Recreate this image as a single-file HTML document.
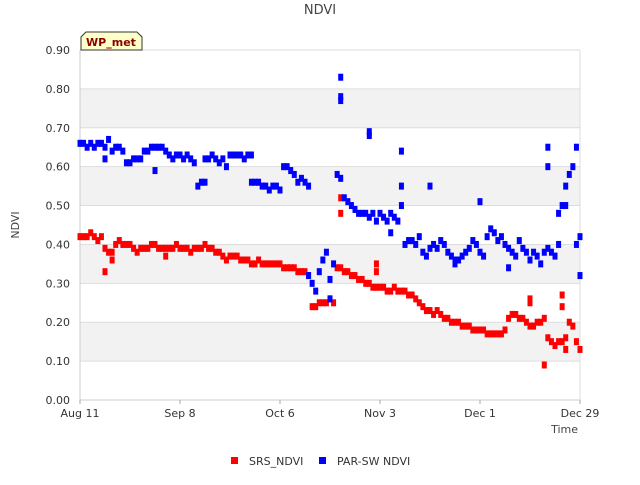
<!DOCTYPE html>
<html><head><meta charset="utf-8"><style>
body{margin:0;background:#fff;font-family:"Liberation Sans","DejaVu Sans",sans-serif;}
svg text{font-family:"DejaVu Sans","Liberation Sans",sans-serif;}
</style></head><body>
<svg id="c" width="640" height="480" xmlns="http://www.w3.org/2000/svg">
<rect width="640" height="480" fill="#fff"/>
<text x="320" y="14" text-anchor="middle" font-size="13" fill="#444">NDVI</text>
<text transform="translate(19,225) rotate(-90)" text-anchor="middle" font-size="11" fill="#444">NDVI</text>
<text x="578" y="433" text-anchor="end" font-size="11" fill="#444">Time</text>
<g id="grid"></g><g id="axes"></g><g id="marks"></g>
<g>
<path d="M81,50 L81,37 L86,32 L137,32 L142,37 L142,50 Z" fill="#ffffc8" stroke="#333" stroke-width="1"/>
<text x="111" y="46" text-anchor="middle" font-size="11" font-weight="bold" fill="#8b0000">WP_met</text>
</g>
<g>
<g><rect x="231" y="457" width="7" height="7" fill="#f00"/><text x="249" y="465" font-size="11" fill="#333">SRS_NDVI</text></g>
<g><rect x="319" y="457" width="7" height="7" fill="#00f"/><text x="337" y="465" font-size="11" fill="#333">PAR-SW NDVI</text></g>
</g>
</svg>
<script>
const yTicks=[0,0.1,0.2,0.3,0.4,0.5,0.6,0.7,0.8,0.9];
const xTickDays=[0,28,56,84,112,140];
const xTickLabels=["Aug 11","Sep 8","Oct 6","Nov 3","Dec 1","Dec 29"];
const srsVals=[
0.42,0.42,0.42,0.43,0.42,0.41,0.42,0.39,0.38,0.38,
0.40,0.41,0.40,0.40,0.40,0.39,0.38,0.39,0.39,0.39,
0.40,0.40,0.39,0.39,0.39,0.39,0.39,0.40,0.39,0.39,
0.39,0.38,0.39,0.39,0.39,0.40,0.39,0.39,0.38,0.38,
0.37,0.36,0.37,0.37,0.37,0.36,0.36,0.36,0.35,0.35,
0.36,0.35,0.35,0.35,0.35,0.35,0.35,0.34,0.34,0.34,
0.34,0.33,0.33,0.33,0.32,0.24,0.24,0.25,0.25,0.25,
0.26,0.25,0.34,0.34,0.33,0.33,0.32,0.32,0.31,0.31,
0.30,0.30,0.29,0.29,0.29,0.29,0.28,0.28,0.29,0.28,
0.28,0.28,0.27,0.27,0.26,0.25,0.24,0.23,0.23,0.22,
0.23,0.22,0.21,0.21,0.20,0.20,0.20,0.19,0.19,0.19,
0.18,0.18,0.18,0.18,0.17,0.17,0.17,0.17,0.17,0.18,
0.21,0.22,0.22,0.21,0.21,0.20,0.19,0.19,0.20,0.20,
0.21,0.16,0.15,0.14,0.15,0.15,0.16,0.20,0.19,0.15,
0.13];
const srsExtraDays=[7,9,24,73,73,83,83,126,126,130,135,135,136];
const srsExtraVals=[0.33,0.36,0.37,0.52,0.48,0.35,0.33,0.26,0.25,0.09,0.27,0.24,0.13];
const parVals=[
0.66,0.66,0.65,0.66,0.65,0.66,0.66,0.65,0.67,0.64,
0.65,0.65,0.64,0.61,0.61,0.62,0.62,0.62,0.64,0.64,
0.65,0.65,0.65,0.65,0.64,0.63,0.62,0.63,0.63,0.62,
0.63,0.62,0.61,0.55,0.56,0.62,0.62,0.63,0.62,0.61,
0.62,0.60,0.63,0.63,0.63,0.63,0.62,0.63,0.63,0.56,
0.56,0.55,0.55,0.54,0.55,0.55,0.54,0.60,0.60,0.59,
0.58,0.56,0.57,0.56,0.55,0.30,0.28,0.33,0.36,0.38,
0.31,0.35,0.58,0.57,0.52,0.51,0.50,0.49,0.48,0.48,
0.48,0.47,0.48,0.46,0.48,0.47,0.46,0.48,0.47,0.46,
0.50,0.40,0.41,0.41,0.40,0.42,0.38,0.37,0.39,0.40,
0.39,0.41,0.40,0.38,0.37,0.36,0.36,0.37,0.38,0.39,
0.41,0.40,0.38,0.37,0.42,0.44,0.43,0.41,0.42,0.40,
0.39,0.38,0.37,0.41,0.39,0.38,0.36,0.38,0.37,0.35,
0.38,0.39,0.38,0.37,0.40,0.50,0.55,0.58,0.60,0.40,
0.32];
const parExtraDays=[7,21,35,48,73,73,73,81,81,90,90,87,98,112,131,131,134,139,140,136,120,105,64,70];
const parExtraVals=[0.62,0.59,0.56,0.56,0.83,0.78,0.77,0.69,0.68,0.64,0.55,0.43,0.55,0.51,0.65,0.60,0.48,0.65,0.42,0.50,0.34,0.35,0.32,0.26];
const NS="http://www.w3.org/2000/svg";
const X0=80,X1=580,Y0=400,Y1=50;
const xs=d=>X0+d/140*(X1-X0);
const ys=v=>Y0-v/0.9*(Y0-Y1);
function mk(t,a,p){const e=document.createElementNS(NS,t);for(const k in a)e.setAttribute(k,a[k]);p.appendChild(e);return e;}
const grid=document.getElementById('grid'),axes=document.getElementById('axes'),marks=document.getElementById('marks');
for(let i=0;i<yTicks.length-1;i++){
 if(i%2===1){const r=mk('rect',{x:X0,y:ys(yTicks[i+1]),width:X1-X0,height:ys(yTicks[i])-ys(yTicks[i+1]),fill:'#f2f2f2'},grid);
 
 }
}
yTicks.forEach(v=>{
 const l=mk('line',{x1:X0,x2:X1,y1:ys(v),y2:ys(v),stroke:'#ddd','stroke-width':1},grid);
 
 
 const t=mk('text',{x:X0-10,y:ys(v)+4,'text-anchor':'end','font-size':11,fill:'#333'},axes);
 t.textContent=v.toFixed(2);
 
 
});
mk('line',{x1:X0,x2:X0,y1:Y1,y2:Y0,stroke:'#ccc'},axes);
mk('line',{x1:X1,x2:X1,y1:Y1,y2:Y0,stroke:'#ddd'},axes);
mk('line',{x1:X0,x2:X1,y1:Y0,y2:Y0,stroke:'#ccc'},axes);
xTickDays.forEach((d,i)=>{
 mk('line',{x1:xs(d),x2:xs(d),y1:Y0,y2:Y0+4,stroke:'#aaa'},axes);
 const t=mk('text',{x:xs(d),y:Y0+17,'text-anchor':'middle','font-size':11,fill:'#333'},axes);
 t.textContent=xTickLabels[i];
 
 
});
function plot(days,vals,color,name){
 for(let i=0;i<vals.length;i++){
  const r=mk('rect',{x:xs(days[i])-2.5,y:ys(vals[i])-3.5,width:5,height:7,fill:color},marks);
  
  
 }
}
const mainDays=srsVals.map((v,i)=>i);
plot(mainDays,srsVals,'#f00','srs-ndvi-point');
plot(srsExtraDays,srsExtraVals,'#f00','srs-ndvi-point');
plot(parVals.map((v,i)=>i),parVals,'#00f','parsw-ndvi-point');
plot(parExtraDays,parExtraVals,'#00f','parsw-ndvi-point');
</script>
</body></html>
